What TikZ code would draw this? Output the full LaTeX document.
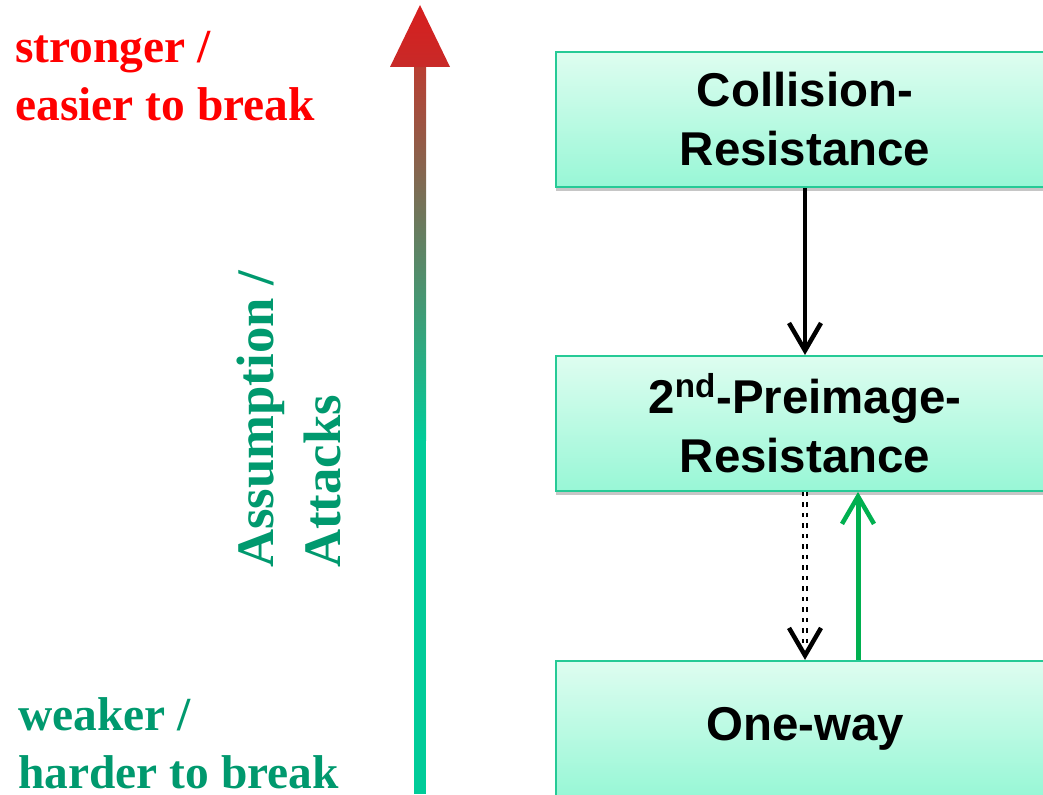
\documentclass[tikz,border=0pt]{standalone}
\usepackage{fontspec}
\setmainfont{Liberation Serif}
\newfontfamily\boxfont{Liberation Sans}
\usetikzlibrary{positioning, arrows.meta, shadows}
\definecolor{strongred}{RGB}{255,0,0}
\definecolor{weakgreen}{RGB}{0,153,110}
\definecolor{arrowred}{RGB}{215,30,30}
\definecolor{headred}{RGB}{200,42,40}
\definecolor{shaftred}{RGB}{185,62,50}
\definecolor{arrowgreen}{RGB}{0,204,153}
\definecolor{boxtop}{RGB}{222,253,240}
\definecolor{boxbottom}{RGB}{152,247,214}
\definecolor{boxline}{RGB}{38,202,150}
\definecolor{implgreen}{RGB}{0,176,80}
\tikzset{
    prop/.style = {draw = boxline, line width = 0.04cm, top color = boxtop, bottom color = boxbottom,
        minimum width = 9.96cm, minimum height = 2.7cm, align = center,
        font = \boxfont\bfseries\fontsize{27}{33.6}\selectfont,
        drop shadow = {opacity = 0.45, shadow xshift = 0cm, shadow yshift = -0.09cm}},
    impl/.style = {line width = 0.09cm, -{Straight Barb[length = 0.55cm, width = 0.64cm, line width = 0.09cm]}},
}
\begin{document}
\begin{tikzpicture}[x = 0.02cm, y = -0.02cm]
            \useasboundingbox (0,0) rectangle (1043,794);
            \fill[arrowgreen] (414,439) rectangle (426,794);
            \shade[top color = shaftred, bottom color = arrowgreen] (414,66) rectangle (426,440);
            \shade[top color = arrowred, bottom color = headred] (390,67) -- (420,5) -- (450,67) -- cycle;
            \begin{scope}[every node/.append style = {font = \bfseries\fontsize{27}{33}\selectfont, align = left, inner sep = 0pt}]
                \node[text = strongred, anchor = base west] (stronger) at (15,120) {stronger /\\easier to break};
                \node[text = weakgreen, anchor = base west] (weaker) at (18,788) {weaker /\\harder to break};
                \node[text = weakgreen, rotate = 90, anchor = base west, font = \bfseries\fontsize{30}{38}\selectfont] (assumption) at (340,568) {Assumption /\\Attacks};
            \end{scope}
            \node[prop] (collision) at (805,119.5) {Collision-\\Resistance};
            \node[prop, below = 3.34cm of collision] (preimage) {2\textsuperscript{nd}-Preimage-\\Resistance};
            \node[prop, below = 3.36cm of preimage] (oneway) {One-way};
            \draw[impl] (collision.south) -- (preimage.north);
            \draw[impl, double, line width = 0.035cm, double distance = 0.035cm, dash pattern = on 0.09cm off 0.12cm] (preimage.south) -- (oneway.north);
            \draw[impl, implgreen, line width = 0.1cm] ([xshift = 1.06cm]oneway.north) -- ([xshift = 1.06cm]preimage.south);
\end{tikzpicture}
\end{document}
